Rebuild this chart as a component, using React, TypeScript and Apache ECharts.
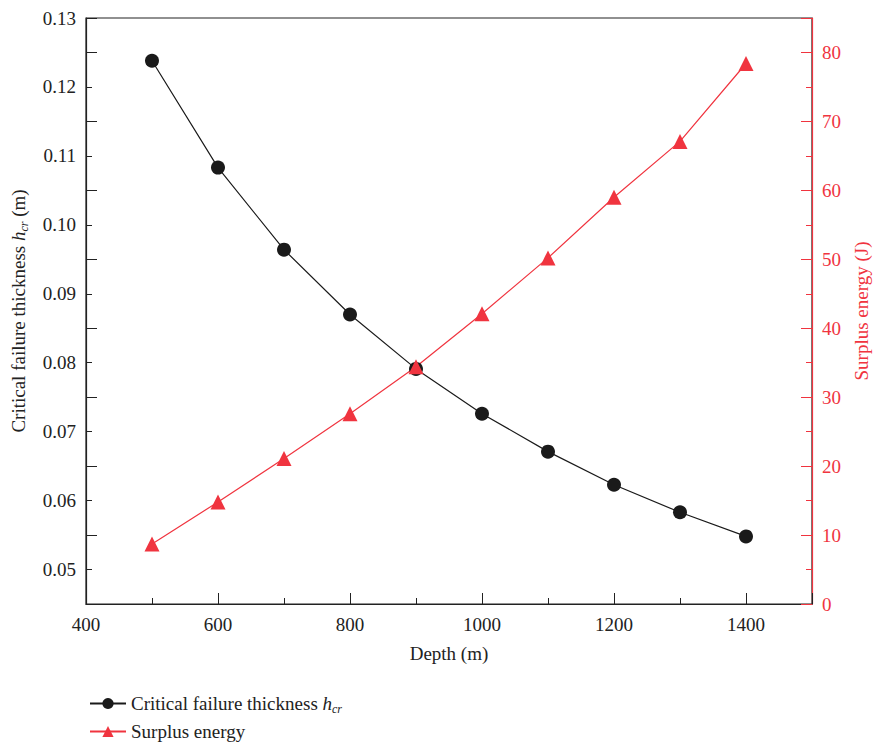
import React, { useEffect, useRef } from "react";
import * as echarts from "echarts";

const depths = [500, 600, 700, 800, 900, 1000, 1100, 1200, 1300, 1400];
const thickness = [0.1238, 0.1083, 0.0964, 0.0870, 0.0791, 0.0726, 0.0671, 0.0623, 0.0583, 0.0548];
const energy = [8.7, 14.8, 21.1, 27.6, 34.4, 42.1, 50.2, 59.0, 67.1, 78.4];

const FONT = "'Liberation Serif', 'DejaVu Serif', serif";
const BLACK = "#1a1a1a";
const RED = "#f0343f";
const FS = 19;

export default function App() {
  const ref = useRef<HTMLDivElement>(null);
  useEffect(() => {
    const chart = echarts.init(ref.current!, null, { renderer: "svg" });
    const labelStyle = { fontFamily: FONT, fontSize: FS, color: "#222" };
    const rich = {
      i: { fontFamily: FONT, fontSize: FS, fontStyle: "italic" as const, color: "#222" },
      s: { fontFamily: FONT, fontSize: 12, fontStyle: "italic" as const, color: "#222", padding: [11, 0, 0, 0] },
      n: { fontFamily: FONT, fontSize: FS, color: "#222" },
    };
    const legendBase = {
      orient: "vertical", left: 84, itemWidth: 36, itemHeight: 14,
      textStyle: { fontFamily: FONT, fontSize: FS, color: "#222", rich },
      formatter: (name: string) => (name === "thickness" ? "{n|Critical failure thickness }{i|h}{s|cr}" : "{n|Surplus energy}"),
    };
    chart.setOption({
      animation: false,
      grid: {
        left: 86, right: 64, top: 18, bottom: 140, outerBoundsMode: "none", containLabel: false,
        show: true, borderColor: "#222", borderWidth: 1.2, backgroundColor: "transparent",
      },
      xAxis: [
        {
          type: "value", min: 400, max: 1500, interval: 100, position: "bottom",
          name: "Depth (m)", nameLocation: "middle", nameGap: 40,
          nameTextStyle: { fontFamily: FONT, fontSize: FS, color: "#222" },
          axisLine: { show: true, lineStyle: { color: "#222", width: 1.2 } },
          axisTick: { show: true, inside: true, length: 6, lineStyle: { color: "#222" } },
          axisLabel: { ...labelStyle, margin: 11, formatter: (v: number) => (v % 200 === 0 && v <= 1400 ? String(v) : "") },
          splitLine: { show: false },
        },
        {
          type: "value", min: 400, max: 1500, interval: 200, position: "bottom",
          axisLine: { show: false },
          axisTick: { show: true, inside: true, length: 11, lineStyle: { color: "#222" } },
          axisLabel: { show: false },
          splitLine: { show: false },
        },
      ],
      yAxis: [
        {
          type: "value", min: 0.045, max: 0.13, interval: 0.005, position: "left",
          name: "{n|Critical failure thickness }{i|h}{s|cr}{n| (m)}",
          nameLocation: "middle", nameGap: 56, nameRotate: 90,
          nameTextStyle: { rich },
          axisLine: { show: true, lineStyle: { color: "#222", width: 1.2 } },
          axisTick: { show: true, inside: true, length: 6, lineStyle: { color: "#222" } },
          axisLabel: {
            ...labelStyle, margin: 10,
            formatter: (v: number) => {
              const k = Math.round(v * 1000);
              return k % 10 === 0 && k >= 50 ? (k / 1000).toFixed(2) : "";
            },
          },
          splitLine: { show: false },
        },
        {
          type: "value", min: 0, max: 85, interval: 5, position: "right",
          name: "Surplus energy (J)", nameLocation: "middle", nameGap: 37, nameRotate: 90,
          nameTextStyle: { fontFamily: FONT, fontSize: FS, color: RED },
          axisLine: { show: true, lineStyle: { color: RED, width: 1.2 } },
          axisTick: { show: true, inside: true, length: 6, lineStyle: { color: RED } },
          axisLabel: {
            fontFamily: FONT, fontSize: FS, color: RED, margin: 10,
            formatter: (v: number) => (v % 10 === 0 && v <= 80 ? String(v) : ""),
          },
          splitLine: { show: false },
        },
        {
          type: "value", min: 0.045, max: 0.13, interval: 0.01, position: "left",
          axisLine: { show: false },
          axisTick: { show: true, inside: true, length: 11, lineStyle: { color: "#222" } },
          axisLabel: { show: false },
          splitLine: { show: false },
        },
        {
          type: "value", min: 0, max: 85, interval: 10, position: "right",
          axisLine: { show: false },
          axisTick: { show: true, inside: true, length: 11, lineStyle: { color: RED } },
          axisLabel: { show: false },
          splitLine: { show: false },
        },
      ],
      legend: [
        { ...legendBase, top: 689, data: ["thickness"] },
        { ...legendBase, top: 717, data: ["energy"] },
      ],
      series: [
        {
          name: "thickness", type: "line", xAxisIndex: 0, yAxisIndex: 0,
          data: depths.map((d, i) => [d, thickness[i]]),
          symbol: "circle", symbolSize: 14,
          lineStyle: { color: BLACK, width: 1.2 },
          itemStyle: { color: BLACK },
        },
        {
          name: "energy", type: "line", xAxisIndex: 0, yAxisIndex: 1,
          data: depths.map((d, i) => [d, energy[i]]),
          symbol: "triangle", symbolSize: 15,
          lineStyle: { color: RED, width: 1.2 },
          itemStyle: { color: RED },
        },
      ],
    });
    return () => chart.dispose();
  }, []);
  return <div ref={ref} style={{ width: 876, height: 744, position: "absolute", left: 0, top: 0 }} />;
}
